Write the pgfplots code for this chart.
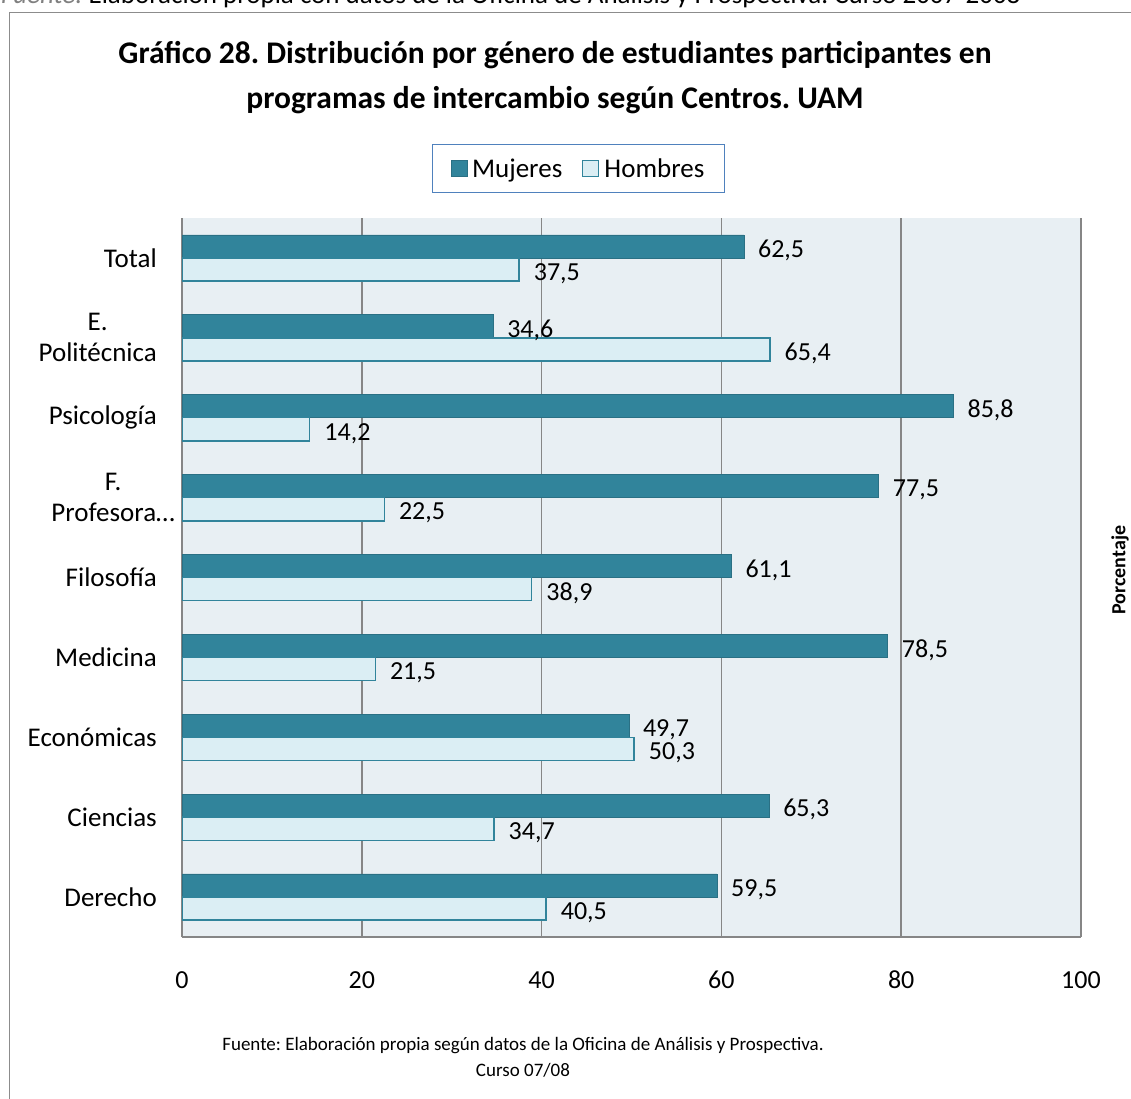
\documentclass[border=0pt]{standalone}
\usepackage{pgfplots}
\pgfplotsset{compat=1.18}
\usepackage{fontspec}
\setmainfont{Carlito}
\definecolor{mdark}{HTML}{31849B}
\definecolor{hlight}{HTML}{DBEEF4}
\definecolor{bgc}{HTML}{E8EFF3}
\definecolor{gridc}{HTML}{868686}
\definecolor{legblue}{HTML}{4F81BD}
\definecolor{framec}{HTML}{8C8C8C}
\newcommand\fsz[2]{\fontsize{#1bp}{#2bp}\selectfont}

\begin{document}
\frenchspacing
\begin{tikzpicture}
\useasboundingbox (0bp,0bp) rectangle (1131bp,-1099bp);
\clip (0bp,0bp) rectangle (1131bp,-1099bp);
\node[anchor=base west, inner sep=0pt, font=\fsz{27}{32}] at (1bp,-3bp) {\textcolor{gray}{\itshape Fuente:} Elaboración propia con datos de la Oficina de Análisis y Prospectiva. Curso 2007-2008};
\draw[framec, line width=1.5bp] (9.5bp,-12.5bp) rectangle (1200bp,-1200bp);
\node[anchor=base, inner sep=0pt, font=\fsz{31.5}{38}\bfseries] at (555bp,-63bp) {Gráfico 28. Distribución por género de estudiantes participantes en};
\node[anchor=base, inner sep=0pt, font=\fsz{31.5}{38}\bfseries] at (555bp,-108bp) {programas de intercambio según Centros. UAM};
\begin{axis}[
  at={(182bp,-937bp)}, anchor=south west,
  scale only axis, width=899bp, height=719bp,
  xbar, bar width=0.29,
  xmin=0, xmax=100, ymin=-0.5, ymax=8.5,
  xtick={0,20,40,60,80,100},
  ytick={0,1,2,3,4,6,7,8},
  yticklabels={Derecho,Ciencias,Económicas,Medicina,Filosofía,Psicología,{E.\\Politécnica},Total},
  extra y ticks={5},
  extra y tick labels={{F.\\Profesora…}},
  extra y tick style={yticklabel style={xshift=18bp}},
  axis background/.style={fill=bgc},
  xmajorgrids, grid style={gridc, line width=1.5bp},
  axis x line*=bottom, axis y line*=left,
  axis line style={gridc, line width=1.5bp, -},
  major tick length=0pt,
  tick label style={font=\fsz{26}{31}},
  /pgf/number format/assume math mode=true,
  xticklabel style={anchor=center, yshift=-43bp},
  yticklabel style={anchor=east, align=center, xshift=-25bp, inner sep=0pt, font=\fsz{27}{31}},
  point meta=x,
  nodes near coords={\pgfmathprintnumber[fixed,fixed zerofill,precision=1,use comma]{\pgfplotspointmeta}},
  every node near coord/.append style={font=\fsz{26}{31}, anchor=west, inner sep=0pt, xshift=14bp, yshift=-4bp, black},
  legend columns=2,
  legend style={at={(0.441,1.0688)}, anchor=center, draw=legblue, line width=1.2bp, fill=white,
    font=\fsz{27}{31}, inner xsep=18bp, inner ysep=12bp,
    /tikz/every odd column/.append style={column sep=3bp},
    /tikz/every even column/.append style={column sep=18bp}},
]
\addplot[fill=mdark, draw=mdark!85!black, line width=0.5bp, bar shift=0.145,
  legend image code/.code={\draw[fill=mdark, draw=mdark!85!black, line width=0.5bp] (0bp,-8bp) rectangle (16bp,8bp);}]
  coordinates {(59.5,0) (65.3,1) (49.7,2) (78.5,3) (61.1,4) (77.5,5) (85.8,6) (34.6,7) (62.5,8)};
\addplot[fill=hlight, draw=mdark, line width=1.5bp, bar shift=-0.145,
  legend image code/.code={\draw[fill=hlight, draw=mdark, line width=1.2bp] (0bp,-8bp) rectangle (16bp,8bp);}]
  coordinates {(40.5,0) (34.7,1) (50.3,2) (21.5,3) (38.9,4) (22.5,5) (14.2,6) (65.4,7) (37.5,8)};
\legend{Mujeres,Hombres}
\end{axis}
\node[rotate=90, font=\fsz{20}{24}\bfseries, inner sep=0pt] at (1120bp,-570bp) {Porcentaje};
\node[anchor=base, inner sep=0pt, font=\fsz{19}{23}] at (523bp,-1050bp) {Fuente: Elaboración propia según datos de la Oficina de Análisis y Prospectiva.};
\node[anchor=base, inner sep=0pt, font=\fsz{19}{23}] at (523bp,-1076bp) {Curso 07/08};
\end{tikzpicture}
\end{document}
